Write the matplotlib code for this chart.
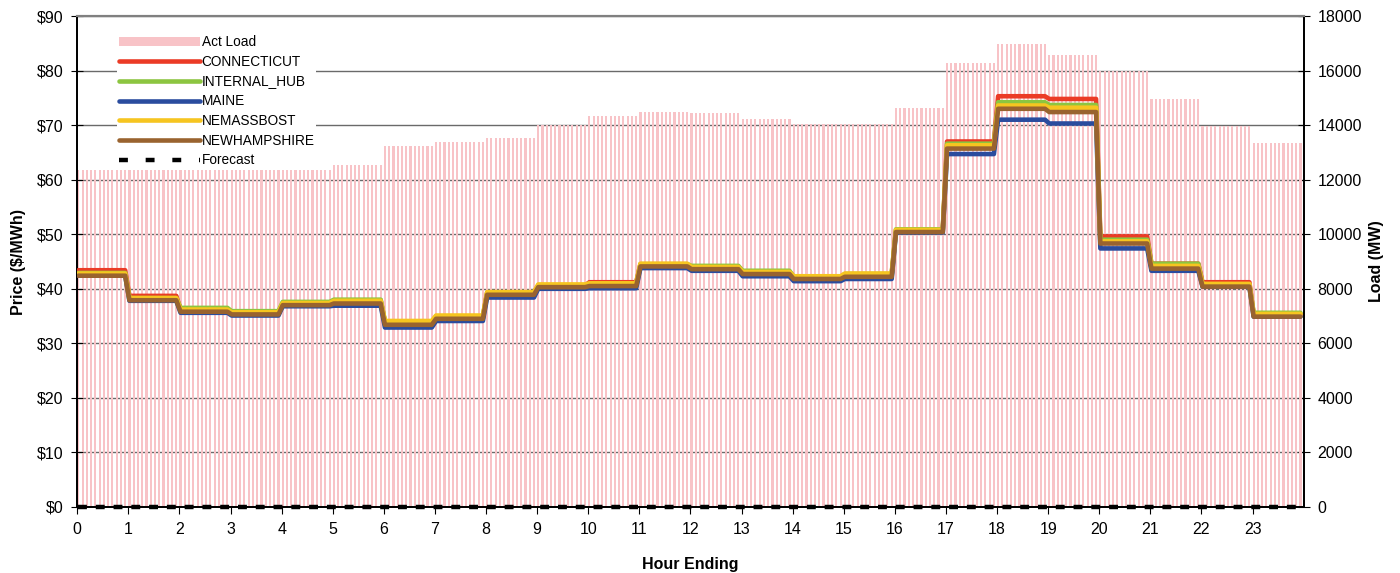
import numpy as np
import matplotlib.pyplot as plt
from matplotlib.patches import Patch
from matplotlib.lines import Line2D

plt.rcParams['font.family'] = ['Liberation Sans', 'DejaVu Sans']

# datas (hourly, drawn as 5-minute intervals)
hours = np.arange(24)
act_load = [12350, 12350, 12350, 12350, 12350, 12540, 13230, 13380, 13540, 14010,
            14330, 14470, 14430, 14220, 14040, 14040, 14630, 16270, 16980, 16570,
            15990, 14950, 13970, 13350]
connecticut = [43.4, 38.7, 36.2, 35.6, 37.3, 37.9, 33.9, 34.9, 39.3, 40.6, 41.2, 44.5,
               44.0, 43.1, 42.2, 42.6, 50.7, 67.0, 75.3, 74.8, 49.6, 44.6, 41.2, 35.3]
internal_hub = [42.9, 38.3, 36.5, 35.9, 37.6, 38.0, 34.0, 34.9, 39.2, 40.6, 40.9, 44.5,
                44.2, 43.3, 42.2, 42.7, 50.9, 66.6, 74.2, 73.7, 49.0, 44.6, 40.8, 35.6]
maine = [42.4, 37.8, 35.6, 35.1, 36.8, 36.9, 32.9, 34.1, 38.4, 40.0, 40.1, 43.8,
         43.3, 42.3, 41.4, 41.8, 50.3, 64.7, 71.0, 70.3, 47.4, 43.3, 40.4, 34.9]
nemassbost = [42.8, 38.3, 36.2, 35.7, 37.4, 37.8, 34.1, 35.1, 39.4, 40.8, 41.0, 44.6,
              44.0, 43.1, 42.3, 42.8, 50.8, 66.3, 73.6, 73.2, 48.7, 44.2, 40.9, 35.4]
newhampshire = [42.4, 37.9, 35.8, 35.3, 37.0, 37.3, 33.4, 34.5, 38.9, 40.3, 40.5, 44.1,
                43.6, 42.7, 41.8, 42.2, 50.4, 65.7, 73.0, 72.4, 48.3, 43.7, 40.4, 34.9]
forecast = [0] * 24

series = [
    ('CONNECTICUT', connecticut, '#EB3B26'),
    ('INTERNAL_HUB', internal_hub, '#8CC540'),
    ('MAINE', maine, '#2A4C9E'),
    ('NEMASSBOST', nemassbost, '#F6C520'),
    ('NEWHAMPSHIRE', newhampshire, '#99632F'),
]

per_hour = 12
n = 24 * per_hour
x = np.arange(n) / per_hour

fig = plt.figure(figsize=(14, 5.73), dpi=100)
ax = fig.add_axes([0.0552, 0.1152, 0.876, 0.8568])
ax2 = ax.twinx()

# load bars (right axis)
bar_w = 0.5 / per_hour
ax.bar(x, np.repeat(act_load, per_hour), width=bar_w, align='edge',
       color='#F8C3C7', zorder=2)
ax.plot(x + bar_w / 2, np.repeat(forecast, per_hour), color='black', lw=3.2,
        linestyle=(0, (2, 2)), zorder=3, clip_on=False)
ax.set_ylim(0, 18000)
ax.set_yticks(np.arange(0, 18001, 2000))
ax.grid(axis='y', color='#6a6a6a', lw=1.0, zorder=0)
ax.set_axisbelow(True)

# prices (left axis)
for name, vals, col in series:
    ax2.plot(x + bar_w / 2, np.repeat(vals, per_hour), color=col, lw=3.3,
             solid_joinstyle='round', solid_capstyle='round', zorder=4)
ax2.set_ylim(0, 90)
ax2.set_yticks(np.arange(0, 91, 10))
ax2.set_yticklabels([f'${v}' for v in range(0, 91, 10)])

# swap sides: load on the right, price on the left
ax.yaxis.tick_right()
ax.yaxis.set_label_position('right')
ax2.yaxis.tick_left()
ax2.yaxis.set_label_position('left')
ax.set_ylabel('Load (MW)', fontsize=11.5, fontweight='bold', labelpad=5)
ax2.set_ylabel('Price ($/MWh)', fontsize=11.5, fontweight='bold', labelpad=8)

# styling
ax.set_xlim(0, 24)
ax.set_xticks(hours)
ax.set_xlabel('Hour Ending', fontsize=11.5, fontweight='bold', labelpad=14)
for a in (ax, ax2):
    for s in ('left', 'right', 'bottom'):
        a.spines[s].set_color('black')
        a.spines[s].set_linewidth(1.3)
    a.spines['top'].set_color('#808080')
    a.spines['top'].set_linewidth(1.5)
ax.tick_params(axis='y', direction='inout', length=8, labelsize=11.5, pad=6)
ax2.tick_params(axis='y', direction='inout', length=8, labelsize=11.5, pad=6)
ax.tick_params(axis='x', direction='out', length=5, labelsize=11.5, pad=6)

handles = [Patch(facecolor='#F8C3C7', edgecolor='none')]
handles += [Line2D([], [], color=c, lw=3.3, solid_capstyle='round') for _, _, c in series]
handles += [Line2D([], [], color='black', lw=3.2, linestyle=(0, (2, 4)))]
labels = ['Act Load'] + [s[0] for s in series] + ['Forecast']
leg = ax2.legend(handles, labels, loc='upper left', bbox_to_anchor=(0.027, 0.978),
                 fontsize=9.8, handlelength=6.0, handleheight=0.6, labelspacing=0.42,
                 handletextpad=0.1, borderpad=0.1, frameon=True, fancybox=False)
leg.get_frame().set_facecolor('white')
leg.get_frame().set_edgecolor('none')
leg.get_frame().set_alpha(1.0)

plt.savefig('out.png', dpi=100)
plt.close('all')
